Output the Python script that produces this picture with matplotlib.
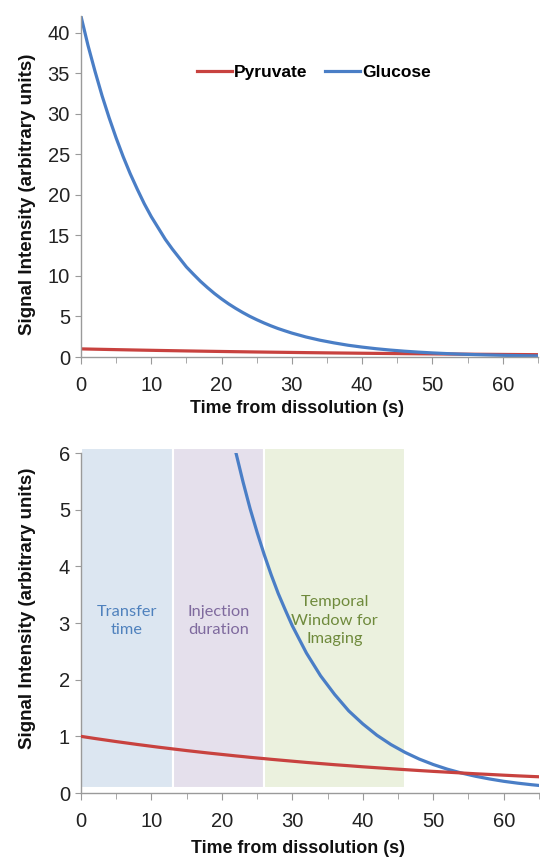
import matplotlib
matplotlib.use("Agg")
import matplotlib.pyplot as plt
from matplotlib.ticker import MultipleLocator

# ---- data ----
time_s = [0, 1, 2, 3, 4, 5, 6, 7, 8, 9, 10, 11, 12, 13, 14, 15, 16, 17, 18,
          19, 20, 21, 22, 23, 24, 25, 26, 27, 28, 29, 30, 32, 34, 36, 38, 40,
          42, 44, 46, 48, 50, 52, 54, 56, 58, 60, 62, 64, 65]
glucose = [42.0, 38.4, 35.2, 32.2, 29.5, 27.0, 24.7, 22.6, 20.7, 18.9, 17.3,
           15.9, 14.5, 13.3, 12.2, 11.1, 10.2, 9.33, 8.55, 7.82, 7.16, 6.55,
           6.00, 5.49, 5.02, 4.60, 4.21, 3.85, 3.52, 3.23, 2.95, 2.47, 2.07,
           1.74, 1.45, 1.22, 1.02, 0.855, 0.717, 0.600, 0.503, 0.421, 0.353,
           0.296, 0.248, 0.207, 0.174, 0.146, 0.134]
pyruvate = [1.00, 0.981, 0.962, 0.944, 0.926, 0.908, 0.891, 0.874, 0.857,
            0.841, 0.825, 0.809, 0.794, 0.779, 0.764, 0.749, 0.735, 0.721,
            0.707, 0.694, 0.681, 0.668, 0.655, 0.643, 0.630, 0.618, 0.607,
            0.595, 0.584, 0.573, 0.562, 0.540, 0.520, 0.500, 0.482, 0.463,
            0.446, 0.429, 0.413, 0.397, 0.382, 0.368, 0.354, 0.340, 0.328,
            0.315, 0.303, 0.292, 0.287]
region_start = [0, 13, 26]
region_end = [13, 26, 46]
region_labels = ["Transfer\ntime", "Injection\nduration", "Temporal\nWindow for\nImaging"]

series_names = ["Pyruvate", "Glucose"]
x_label = "Time from dissolution (s)"
y_label = "Signal Intensity (arbitrary units)"

# ---- style ----
RED = "#C8423F"
BLUE = "#4A7EC6"
region_fill = ["#DCE6F1", "#E5E0EC", "#EBF1DE"]
region_text = ["#4F81BD", "#7F6A9E", "#6F8A3C"]
SPINE = "#9A9A9A"

plt.rcParams["font.family"] = ["Liberation Sans", "DejaVu Sans"]

fig = plt.figure(figsize=(5.4, 8.59), dpi=100)
ax1 = fig.add_axes([0.150, 0.5844, 0.846, 0.3966])
ax2 = fig.add_axes([0.150, 0.0768, 0.848, 0.3958])


def style(ax, xlab_y, ylab_y):
    for s in ("top", "right"):
        ax.spines[s].set_visible(False)
    for s in ("left", "bottom"):
        ax.spines[s].set_color(SPINE)
        ax.spines[s].set_linewidth(1.0)
    ax.xaxis.set_major_locator(MultipleLocator(10))
    ax.xaxis.set_minor_locator(MultipleLocator(5))
    ax.tick_params(axis="both", which="both", colors=SPINE, labelcolor="#222222",
                   labelsize=14.5, direction="out")
    ax.tick_params(axis="x", which="major", length=5, pad=9)
    ax.tick_params(axis="x", which="minor", length=4)
    ax.tick_params(axis="y", which="major", length=4, pad=4)
    ax.set_xlim(0, 65)
    ax.set_xlabel(x_label, fontsize=12.9, fontweight="bold", color="#111111")
    ax.set_ylabel(y_label, fontsize=13.5, fontweight="bold", color="#111111")
    ax.xaxis.set_label_coords(0.473, xlab_y)
    ax.yaxis.set_label_coords(-0.099, ylab_y)


# ---- top panel ----
style(ax1, -0.126, 0.478)
ax1.plot(time_s, pyruvate, color=RED, lw=2.3, label=series_names[0])
ax1.plot(time_s, glucose, color=BLUE, lw=2.3, label=series_names[1])
ax1.set_ylim(0, 42)
ax1.yaxis.set_major_locator(MultipleLocator(5))
leg = ax1.legend(loc="center", bbox_to_anchor=(0.51, 0.836), ncol=2, frameon=False,
                 handlelength=2.0, handletextpad=0.15, columnspacing=1.0,
                 prop={"weight": "bold", "size": 12.5})

# ---- bottom panel ----
style(ax2, -0.139, 0.544)
for s, e, c, lab, tc in zip(region_start, region_end, region_fill, region_labels, region_text):
    ax2.axvspan(s, e, ymin=0.015, ymax=1.015, facecolor=c, edgecolor="white", lw=1.5,
                zorder=0, clip_on=False)
    ax2.text((s + e) / 2, 3.04, lab, ha="center", va="center", color=tc,
             fontsize=11.8, family=["Lato", "DejaVu Sans"], linespacing=1.4, zorder=1)
ax2.plot(time_s, pyruvate, color=RED, lw=2.3, zorder=3)
ax2.plot(time_s, glucose, color=BLUE, lw=2.3, zorder=2)
ax2.set_ylim(0, 6)
ax2.yaxis.set_major_locator(MultipleLocator(1))

fig.savefig("out.png", dpi=100)
